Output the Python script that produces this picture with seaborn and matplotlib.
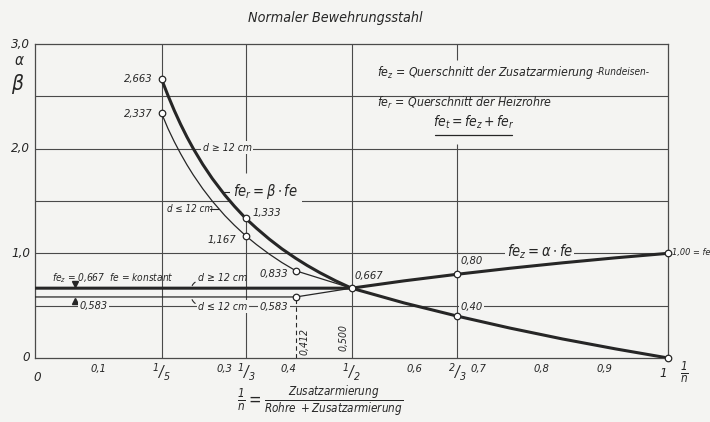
import numpy as np
import pandas as pd
import matplotlib
matplotlib.use("Agg")
import matplotlib.pyplot as plt
from matplotlib import font_manager as fm
import seaborn as sns

# values
# beta curve, d >= 12 cm (thick)
x_beta_thick = [0.200, 0.210, 0.220, 0.230, 0.240, 0.250, 0.265, 0.280, 0.300, 0.315, 0.333,
                0.350, 0.370, 0.390, 0.412, 0.430, 0.450, 0.475, 0.500,
                0.583, 0.667, 0.750, 0.833, 0.917, 1.000]
y_beta_thick = [2.663, 2.509, 2.365, 2.233, 2.112, 2.001, 1.850, 1.715, 1.556, 1.450, 1.333,
                1.239, 1.136, 1.043, 0.952, 0.884, 0.815, 0.737, 0.667,
                0.526, 0.400, 0.286, 0.182, 0.087, 0.000]

# beta curve, d <= 12 cm (thin)
x_beta_thin = [0.200, 0.210, 0.220, 0.230, 0.240, 0.250, 0.265, 0.280, 0.300, 0.315, 0.333,
               0.350, 0.370, 0.390, 0.412, 0.500]
y_beta_thin = [2.337, 2.193, 2.067, 1.952, 1.846, 1.749, 1.617, 1.499, 1.360, 1.268, 1.167,
               1.083, 0.993, 0.912, 0.833, 0.667]

# alpha curve, d >= 12 cm (thick)
x_alpha_thick = [0.000, 0.500, 0.583, 0.667, 0.750, 0.833, 0.917, 1.000]
y_alpha_thick = [0.667, 0.667, 0.737, 0.800, 0.857, 0.909, 0.957, 1.000]

# alpha curve, d <= 12 cm (thin)
x_alpha_thin = [0.000, 0.412, 0.500]
y_alpha_thin = [0.583, 0.583, 0.667]

# marked points
pts_x = [0.2, 0.2, 1/3, 1/3, 0.412, 0.412, 0.5, 2/3, 2/3, 1.0, 1.0]
pts_y = [2.663, 2.337, 1.333, 1.167, 0.833, 0.583, 0.667, 0.80, 0.40, 1.00, 0.00]

dec_ticks = [0.1, 0.3, 0.4, 0.6, 0.7, 0.8, 0.9]
dec_labels = ["0,1", "0,3", "0,4", "0,6", "0,7", "0,8", "0,9"]
frac_ticks = [0.2, 1/3, 0.5, 2/3]
frac_labels = [r"$^{1}/_{5}$", r"$^{1}/_{3}$", r"$^{1}/_{2}$", r"$^{2}/_{3}$"]
ygrid = [0.5, 1.0, 1.5, 2.0, 2.5]
ylabels = {3.0: "3,0", 2.0: "2,0", 1.0: "1,0", 0.0: "0"}

sns.set_style("white")

# narrow italic lettering: condensed DejaVu if present, else Liberation Sans
path = fm.findfont(fm.FontProperties(family='DejaVu Sans', style='italic', stretch='condensed'))
if 'Condensed' in path:
    plt.rcParams['font.family'] = ['DejaVu Sans']
    plt.rcParams['font.stretch'] = 'condensed'
    mfont = 'DejaVu Sans:italic:stretch=condensed'
else:
    plt.rcParams['font.family'] = ['Liberation Sans', 'DejaVu Sans']
    mfont = 'Liberation Sans:italic'
plt.rcParams['font.style'] = 'italic'
plt.rcParams['mathtext.fontset'] = 'custom'
plt.rcParams['mathtext.it'] = mfont
plt.rcParams['mathtext.rm'] = mfont

bg = '#f4f4f2'
ink = '#262626'
grid_c = '#4a4a4a'

fig = plt.figure(figsize=(7.1, 4.22), dpi=100, facecolor=bg)
ax = fig.add_axes([0.0493, 0.1517, 0.8916, 0.744])
ax.set_facecolor(bg)
ax.set_xlim(0, 1)
ax.set_ylim(0, 3)

# grid
for g in ygrid:
    ax.axhline(g, color=grid_c, lw=0.8, zorder=1)
for f in [0.2, 0.5]:
    ax.axvline(f, color=grid_c, lw=0.8, zorder=1)
ax.vlines(1/3, 0, 1.333, color=grid_c, lw=0.8, zorder=1)
ax.vlines(1/3, 1.77, 3.0, color=grid_c, lw=0.8, zorder=1)
ax.vlines(2/3, 0, 2.04, color=grid_c, lw=0.8, zorder=1)
ax.vlines(2/3, 2.85, 3.0, color=grid_c, lw=0.8, zorder=1)
for s in ax.spines.values():
    s.set_color(grid_c)
    s.set_linewidth(0.9)

# curves
sns.lineplot(x=x_beta_thick, y=y_beta_thick, ax=ax, color=ink, lw=2.2, sort=False, estimator=None, zorder=3)
sns.lineplot(x=x_alpha_thick, y=y_alpha_thick, ax=ax, color=ink, lw=2.2, sort=False, estimator=None, zorder=3)
sns.lineplot(x=x_beta_thin, y=y_beta_thin, ax=ax, color=ink, lw=0.9, sort=False, estimator=None, zorder=3)
sns.lineplot(x=x_alpha_thin, y=y_alpha_thin, ax=ax, color=ink, lw=0.9, sort=False, estimator=None, zorder=3)
ax.vlines(0.412, 0, 0.583, color=ink, lw=0.8, linestyles=(0, (4, 3)), zorder=2)

sns.scatterplot(x=pts_x, y=pts_y, ax=ax, s=22, marker='o', facecolor='white',
                edgecolor=ink, linewidth=0.9, zorder=5, clip_on=False)

# ticks
ax.set_xticks(dec_ticks)
ax.set_xticklabels([])
ax.tick_params(axis='x', direction='in', length=9, width=0.8, color=grid_c)
ax.set_yticks([])
xt = ax.get_xaxis_transform()
for t, l in zip(dec_ticks, dec_labels):
    ax.text(t, -0.036, l, transform=xt, ha='center', va='center', fontsize=8, color=ink)
for t, l in zip(frac_ticks, frac_labels):
    ax.text(t, -0.045, l, transform=xt, ha='center', va='center', fontsize=11, color=ink)
ax.text(0.004, -0.062, "0", transform=xt, ha='center', va='center', fontsize=9.5, color=ink)
ax.text(0.992, -0.05, "1", transform=xt, ha='center', va='center', fontsize=9.5, color=ink)
ax.text(1.026, -0.045, r"$\frac{1}{n}$", transform=xt, ha='center', va='center', fontsize=12, color=ink)

yt = ax.get_yaxis_transform()
for v, l in ylabels.items():
    ax.text(-0.008, v, l, transform=yt, ha='right', va='center', fontsize=9.5, color=ink)
ax.text(-0.025, 2.84, r"$\alpha$", transform=yt, ha='center', va='center', fontsize=11, color=ink)
ax.text(-0.028, 2.62, r"$\beta$", transform=yt, ha='center', va='center', fontsize=15, color=ink)

# title and axis description
ax.text(0.474, 1.083, "Normaler Bewehrungsstahl", transform=ax.transAxes, ha='center',
        va='center', fontsize=10.3, color=ink)
ax.text(0.45, -0.137, r"$\frac{1}{n} = \frac{Zusatzarmierung}{Rohre\ +Zusatzarmierung}$",
        transform=ax.transAxes, ha='center', va='center', fontsize=12, color=ink)

# legend text block
ax.text(0.54, 2.73, r"$fe_z$ = Querschnitt der Zusatzarmierung", ha='left', va='center',
        fontsize=8.8, color=ink)
ax.text(0.886, 2.73, "-Rundeisen-", ha='left', va='center', fontsize=7.2, color=ink)
ax.text(0.54, 2.44, r"$fe_r$ = Querschnitt der Heizrohre", ha='left', va='center', fontsize=8.8, color=ink)
ax.text(0.693, 2.25, r"$fe_t = fe_z + fe_r$", ha='center', va='center', fontsize=10, color=ink)
ax.plot([0.632, 0.754], [2.13, 2.13], color=ink, lw=0.9)

box = dict(facecolor=bg, edgecolor='none', pad=1)
bz = 2.5  # label backgrounds hide the grid but not the curves

# point labels
ax.text(0.186, 2.67, "2,663", ha='right', va='center', fontsize=8, color=ink)
ax.text(0.186, 2.33, "2,337", ha='right', va='center', fontsize=8, color=ink)
ax.text(0.343, 1.39, "1,333", ha='left', va='center', fontsize=8, color=ink)
ax.text(0.318, 1.13, "1,167", ha='right', va='center', fontsize=8, color=ink)
ax.text(0.400, 0.80, "0,833", ha='right', va='center', fontsize=8, color=ink)
ax.text(0.400, 0.49, "0,583", ha='right', va='center', fontsize=8, color=ink, bbox=box, zorder=bz)
ax.text(0.505, 0.78, "0,667", ha='left', va='center', fontsize=8, color=ink)
ax.text(0.672, 0.93, "0,80", ha='left', va='center', fontsize=8, color=ink)
ax.text(0.672, 0.49, "0,40", ha='left', va='center', fontsize=8, color=ink, bbox=box, zorder=bz)
ax.text(1.006, 1.01, "1,00 = fe", ha='left', va='center', fontsize=6.6, color=ink)
ax.text(0.425, 0.16, "0,412", ha='center', va='center', rotation=90, fontsize=7.5, color=ink)
ax.text(0.488, 0.2, "0,500", ha='center', va='center', rotation=90, fontsize=7.5, color=ink)

# curve descriptions
ax.text(0.745, 1.02, r"$fe_z = \alpha \cdot fe$", ha='left', va='center', fontsize=10.5, color=ink,
        bbox=box, zorder=bz)
ax.text(0.313, 1.59, r"$fe_r = \beta \cdot fe$", ha='left', va='center', fontsize=10.5, color=ink,
        bbox=dict(facecolor=bg, edgecolor='none', pad=2.5), zorder=bz)
ax.plot([0.296, 0.312], [1.59, 1.59], color=ink, lw=0.8)
ax.text(0.265, 2.01, "d ≥ 12 cm", ha='left', va='center', fontsize=7.5, color=ink, bbox=box, zorder=bz)
ax.text(0.208, 1.42, "d ≤ 12 cm", ha='left', va='center', fontsize=7, color=ink)
ax.plot([0.276, 0.291], [1.42, 1.42], color=ink, lw=0.8)

ax.text(0.027, 0.76, r"$fe_z$ = 0,667  fe = konstant", ha='left', va='center', fontsize=7.3, color=ink)
ax.plot([0.063], [0.705], marker='v', color=ink, ms=4.5)
ax.plot([0.063], [0.545], marker='^', color=ink, ms=4.5)
ax.text(0.07, 0.50, "0,583", ha='left', va='center', fontsize=7.8, color=ink, bbox=box, zorder=bz)
ax.text(0.258, 0.76, "d ≥ 12 cm", ha='left', va='center', fontsize=7.6, color=ink)
ax.annotate("", xy=(0.247, 0.667), xytext=(0.257, 0.735),
            arrowprops=dict(arrowstyle='-', color=ink, lw=0.8, connectionstyle='arc3,rad=0.3'))
ax.text(0.258, 0.49, "d ≤ 12 cm", ha='left', va='center', fontsize=7.6, color=ink, bbox=box, zorder=bz)
ax.annotate("", xy=(0.247, 0.583), xytext=(0.257, 0.51),
            arrowprops=dict(arrowstyle='-', color=ink, lw=0.8, connectionstyle='arc3,rad=-0.3'))

ax.set_xlabel("")
ax.set_ylabel("")
fig.savefig("out.png", dpi=100, facecolor=bg)
